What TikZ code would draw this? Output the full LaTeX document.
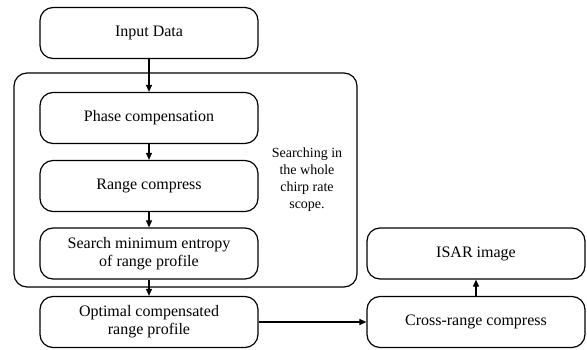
\documentclass[tikz,border=0pt]{standalone}
\usepackage{fontspec}
\setmainfont{Liberation Serif}
\usetikzlibrary{arrows.meta}
\begin{document}
\begin{tikzpicture}[x=1pt,y=-1pt,
  procbox/.style={draw, line width=1.2pt, rounded corners=13pt, minimum width=218pt, minimum height=51pt, inner sep=0pt, align=center, font=\fontsize{16}{18}\selectfont},
  flow/.style={-{Triangle[length=7pt,width=6pt]}, line width=1.1pt}]
\useasboundingbox (0,0) rectangle (587,350);
\node[draw, line width=1.2pt, rounded corners=13pt, minimum width=343pt, minimum height=214pt, inner sep=0pt] (loop) at (185.5,180) {};
\node[procbox] (input) at (149,33) {Input Data};
\node[procbox] (phase) at (149,118) {Phase compensation};
\node[procbox] (range) at (149,186) {Range compress};
\node[procbox] (search) at (149,253.5) {Search minimum entropy\\of range profile};
\node[procbox] (optimal) at (149,322) {Optimal compensated\\range profile};
\node[procbox] (isar) at (476,253.5) {ISAR image};
\node[procbox] (cross) at (476,322) {Cross-range compress};
\node[align=center, inner sep=0pt, font=\fontsize{14}{17}\selectfont] (note) at (307,180) {Searching in\\the whole\\chirp rate\\scope.};
\draw[flow] (input) -- (phase);
\draw[flow] (phase) -- (range);
\draw[flow] (range) -- (search);
\draw[flow] (search) -- (optimal);
\draw[flow] (optimal) -- (cross);
\draw[flow] (cross) -- (isar);
\end{tikzpicture}
\end{document}
